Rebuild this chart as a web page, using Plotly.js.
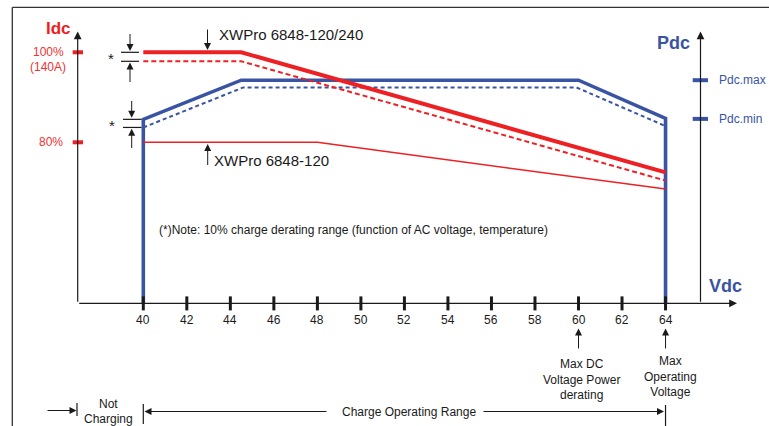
<!DOCTYPE html>
<html><head><meta charset="utf-8">
<script src="https://cdn.plot.ly/plotly-3.0.1.min.js"></script>
<style>html,body{margin:0;padding:0;background:#fff;overflow:hidden}#chart{width:769px;height:426px}</style>
</head><body><div id="chart"></div>
<script>
// ---------------- data ----------------
const voltageTicks = [40, 42, 44, 46, 48, 50, 52, 54, 56, 58, 60, 62, 64];
const tickLabels = ['40', '42', '44', '46', '48', '50', '52', '54', '56', '58', '60', '62', '64'];
const axisBase = 44.2;               // Idc/Pdc baseline (x axis level)

const idcTickValues = [100, 80];
const pdcTickValues = [93.8, 85.2];
const pdcTickLabels = ['Pdc.max', 'Pdc.min'];

// XWPro 6848-120/240 charge current (max / min of 10% derating band)
const idc240Volts = [40, 44.5, 64];
const idc240Max = [100, 100, 73.3];
const idc240MinVolts = [40, 44.5, 64];
const idc240Min = [98, 98, 71.5];
// XWPro 6848-120 charge current
const idc120Volts = [40, 48, 64];
const idc120 = [80, 80, 69.6];
// DC power (max / min of derating band)
const pdcVolts = [40, 40, 44.5, 60, 64, 64];
const pdcMaxCurve = [axisBase, 85.1, 93.8, 93.8, 85.3, axisBase];
const pdcMinVolts = [40, 44.6, 59.9, 64];
const pdcMinCurve = [83.3, 92.2, 92.2, 83.6];

// ---------------- layout helpers ----------------
const W = 769, H = 426;
const PX = x => x / W;
const PY = y => 1 - y / H;
const FONT = 'Liberation Sans, Arial, sans-serif';
const RED = '#ed2024', BLUE = '#3a54a4', INK = '#1a1a1a';

function txt(text, x, y, o) {
  o = o || {};
  return Object.assign({
    xref: 'paper', yref: 'paper', x: PX(x), y: PY(y), text: text, showarrow: false,
    xanchor: 'center', yanchor: 'middle',
    font: {family: FONT, size: o.size || 12, color: o.color || INK}
  }, o.extra || {});
}
function arrow(x1, y1, x2, y2, o) {
  o = o || {};
  return {
    xref: 'paper', yref: 'paper', x: PX(x2), y: PY(y2), ax: x1 - x2, ay: y1 - y2,
    axref: 'pixel', ayref: 'pixel', text: '', showarrow: true, arrowhead: 2,
    arrowsize: o.size || 1.4, arrowwidth: o.width || 1, arrowcolor: INK, standoff: 0
  };
}
function seg(x0, y0, x1, y1, o) {
  o = o || {};
  return {type: 'line', xref: o.xref || 'paper', yref: o.yref || 'paper',
    x0: x0, y0: y0, x1: x1, y1: y1,
    line: {color: o.color || INK, width: o.width || 1.2}};
}

// ---------------- traces ----------------
const traces = [
  {x: pdcMinVolts, y: pdcMinCurve, mode: 'lines', line: {color: BLUE, width: 2, dash: '4px,3px'}},
  {x: pdcVolts, y: pdcMaxCurve, mode: 'lines', line: {color: BLUE, width: 3.6}},
  {x: idc120Volts, y: idc120, mode: 'lines', line: {color: RED, width: 1.5}},
  {x: idc240MinVolts, y: idc240Min, mode: 'lines', line: {color: RED, width: 2, dash: '5px,3px'}},
  {x: idc240Volts, y: idc240Max, mode: 'lines', line: {color: RED, width: 4}},
  {x: voltageTicks, y: voltageTicks.map(() => axisBase), mode: 'markers',
   marker: {symbol: 'line-ns', size: 10, color: INK, line: {width: 3, color: INK}}}
];

// ---------------- shapes ----------------
const shapes = [
  // frame
  seg(PX(12.3), PY(7.3), 1, PY(7.3), {color: '#333', width: 1.3}),
  seg(PX(12.3), PY(7.3), PX(12.3), 0, {color: '#333', width: 1.3}),
  // derating bars (band limits)
  seg(PX(121), idc240Max[0], PX(139), idc240Max[0], {yref: 'y'}),
  seg(PX(121), idc240Min[0], PX(139), idc240Min[0], {yref: 'y'}),
  seg(PX(123), pdcMaxCurve[1], PX(141.5), pdcMaxCurve[1], {yref: 'y'}),
  seg(PX(123), pdcMinCurve[0], PX(141.5), pdcMinCurve[0], {yref: 'y'}),
  // bottom range bars
  seg(PX(77), PY(403), PX(77), PY(416)),
  seg(40, PY(404), 40, PY(424), {xref: 'x'}),
  seg(64, PY(405), 64, PY(426), {xref: 'x'})
];
idcTickValues.forEach(v => shapes.push(seg(PX(72.7), v, PX(83), v, {yref: 'y', color: RED, width: 4})));
pdcTickValues.forEach(v => shapes.push(seg(PX(692.7), v, PX(708), v, {yref: 'y', color: BLUE, width: 4})));

// ---------------- annotations ----------------
const ann = [
  // axes with arrowheads
  arrow(77.7, 303.3, 77.7, 31.5, {width: 1.2, size: 1.3}),
  arrow(700.5, 303.3, 700.5, 31.5, {width: 1.2, size: 1.3}),
  arrow(77.7, 303.3, 737, 303.3, {width: 1.2, size: 1.3}),
  // axis titles
  txt('<b>Idc</b>', 58, 29, {size: 17, color: RED}),
  txt('<b>Pdc</b>', 673.5, 43, {size: 18, color: BLUE}),
  txt('<b>Vdc</b>', 725, 286, {size: 18, color: BLUE}),
  // Idc tick labels
  txt('100%', 48, 52.3, {color: '#ee3232'}),
  txt('(140A)', 48, 67, {color: '#ee3232'}),
  txt('80%', 64.5, 142.3, {color: '#ee3232', extra: {xanchor: 'right'}}),
  // curve labels
  txt('XWPro 6848-120/240', 216.5, 35, {size: 15, extra: {xanchor: 'left'}}),
  arrow(207.5, 28, 207.5, 50),
  txt('XWPro 6848-120', 211.5, 160, {size: 15, extra: {xanchor: 'left'}}),
  arrow(207.7, 166.5, 207.7, 144),
  // derating band markers
  txt('*', 111, 58.5, {size: 15}),
  arrow(130, 32.5, 130, 51),
  arrow(130, 83.5, 130, 62.5),
  txt('*', 112, 125.5, {size: 15}),
  arrow(131.7, 99.5, 131.7, 117.8),
  arrow(131.7, 149.5, 131.7, 128.8),
  // note
  txt('(*)Note: 10% charge derating range (function of AC voltage, temperature)', 157, 230,
      {size: 12, extra: {xanchor: 'left'}}),
  // markers under x axis
  Object.assign(arrow(0, 350, 0, 328.5), {xref: 'x', x: 60}),
  Object.assign(arrow(0, 350, 0, 328.5), {xref: 'x', x: 64}),
  txt('Max DC<br>Voltage Power<br>derating', 581, 379),
  txt('Max<br>Operating<br>Voltage', 670.5, 376.5),
  // range arrows
  arrow(46, 410.5, 76.5, 410.5),
  txt('Not', 108, 404),
  txt('Charging', 108, 419),
  arrow(328, 411.5, 144.5, 411.5),
  txt('Charge Operating Range', 408.5, 411.5),
  arrow(482, 411.5, 664, 411.5)
];
voltageTicks.forEach((v, i) => ann.push({xref: 'x', yref: 'paper', x: v, y: PY(320.3),
  text: tickLabels[i], showarrow: false, xanchor: 'center', yanchor: 'middle',
  font: {family: FONT, size: 12, color: INK}}));
pdcTickValues.forEach((v, i) => ann.push({xref: 'paper', yref: 'y', x: PX(717), y: v,
  text: pdcTickLabels[i], showarrow: false, xanchor: 'left', yanchor: 'middle',
  font: {family: FONT, size: 12, color: BLUE}}));

// ---------------- axes (pixel-aligned, hidden) ----------------
const xPerPx = 1 / 21.76, yPerPx = 1 / 4.5;
const xMin = 40 - 143.3 * xPerPx, yMax = 100 + 52.3 * yPerPx;
const layout = {
  width: W, height: H, autosize: false,
  margin: {l: 0, r: 0, t: 0, b: 0, pad: 0},
  paper_bgcolor: '#fff', plot_bgcolor: '#fff', showlegend: false,
  xaxis: {range: [xMin, xMin + W * xPerPx], visible: false, fixedrange: true},
  yaxis: {range: [yMax - H * yPerPx, yMax], visible: false, fixedrange: true},
  shapes: shapes, annotations: ann,
  font: {family: FONT}
};
Plotly.newPlot('chart', traces, layout, {staticPlot: true, displayModeBar: false});
</script>
</body></html>
